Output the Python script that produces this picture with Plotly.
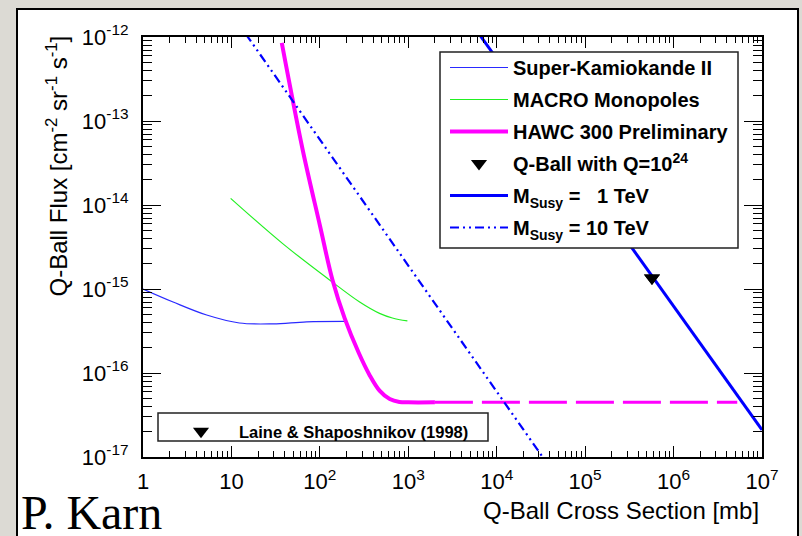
import plotly.graph_objects as go

# ---------------- data ----------------
sk_x = [1, 2.19, 5.25, 12.3, 29.5, 70.8, 195]
sk_y = [1.0e-15, 7.0e-16, 4.9e-16, 3.94e-16, 3.85e-16, 4.07e-16, 4.12e-16]

macro_x = [9.8, 38, 129, 282, 473, 661, 977]
macro_y = [1.2e-14, 3.47e-15, 1.28e-15, 7.0e-16, 5.13e-16, 4.52e-16, 4.17e-16]

hawc_x = [37.1, 64.0, 100, 139, 191, 275, 363, 473, 617, 794, 1000, 2000]
hawc_y = [8.5e-13, 4.52e-14, 5.75e-15, 1.28e-15, 4.47e-16, 1.74e-16, 9.55e-17,
          6.17e-17, 4.9e-17, 4.52e-17, 4.47e-17, 4.47e-17]
hawc_ext_x = [2000, 5.25e6]
hawc_ext_y = [4.47e-17, 4.47e-17]

qball_x = [5.7e5]
qball_y = [1.35e-15]

m1_x = [1e3, 1e7]
m1_y = [1.64e-11, 2.1e-17]

m10_x = [10, 1e5]
m10_y = [1.9e-12, 1.9e-18]

x_ticks = [1, 10, 1e2, 1e3, 1e4, 1e5, 1e6, 1e7]
x_ticktext = ["1", "10", "10<sup>2</sup>", "10<sup>3</sup>", "10<sup>4</sup>",
              "10<sup>5</sup>", "10<sup>6</sup>", "10<sup>7</sup>"]
y_ticks = [1e-17, 1e-16, 1e-15, 1e-14, 1e-13, 1e-12]
y_ticktext = ["10<sup>-17</sup>", "10<sup>-16</sup>", "10<sup>-15</sup>",
              "10<sup>-14</sup>", "10<sup>-13</sup>", "10<sup>-12</sup>"]

x_minor = [k * 10 ** d for d in range(0, 7) for k in range(2, 10)]
y_minor = [k * 10.0 ** d for d in range(-17, -12) for k in range(2, 10)]

# ---------------- geometry helpers (pixel -> paper) ----------------
L, R, T, B = 143, 762, 37, 457
W, H = 802, 536
def px(p):
    return (p - L) / (R - L)
def py(p):
    return (B - p) / (B - T)

SANS = "Liberation Sans, Arial, Helvetica, sans-serif"

fig = go.Figure()

fig.add_trace(go.Scatter(x=sk_x, y=sk_y, mode="lines", name="<b>Super-Kamiokande II</b>",
                         line=dict(color="#2a2aff", width=1.2, shape="spline"),
                         legendgroup="a", legend="legend"))
fig.add_trace(go.Scatter(x=macro_x, y=macro_y, mode="lines", name="<b>MACRO Monopoles</b>",
                         line=dict(color="#22f022", width=1.2, shape="spline"),
                         legendgroup="b", legend="legend"))
fig.add_trace(go.Scatter(x=hawc_x, y=hawc_y, mode="lines", name="<b>HAWC 300 Preliminary</b>",
                         line=dict(color="#ff00ff", width=4, shape="spline", smoothing=1.0),
                         legendgroup="c", legend="legend"))
fig.add_trace(go.Scatter(x=hawc_ext_x, y=hawc_ext_y, mode="lines", showlegend=False,
                         line=dict(color="#ff00ff", width=3, dash="38px,9px"),
                         legendgroup="c", legend="legend"))
fig.add_trace(go.Scatter(x=m1_x, y=m1_y, mode="lines",
                         name="<b>M<sub>Susy</sub> =   1 TeV</b>",
                         line=dict(color="#0000ff", width=3),
                         legendgroup="e", legend="legend"))
fig.add_trace(go.Scatter(x=m10_x, y=m10_y, mode="lines",
                         name="<b>M<sub>Susy</sub> = 10 TeV</b>",
                         line=dict(color="#0000ff", width=2.2, dash="9px,4px,2px,4px,2px,4px"),
                         legendgroup="f", legend="legend"))
fig.add_trace(go.Scatter(x=qball_x, y=qball_y, mode="markers",
                         name="<b>Q-Ball with Q=10<sup>24</sup></b>",
                         marker=dict(symbol="triangle-down", size=14, color="black"),
                         legendgroup="d", legend="legend"))
fig.add_trace(go.Scatter(x=qball_x, y=qball_y, mode="markers",
                         name="<b>Laine & Shaposhnikov (1998)</b>",
                         marker=dict(symbol="triangle-down", size=14, color="black"),
                         legend="legend2"))

# order legend entries as in reference
order = {"a": 1, "b": 2, "c": 3, "d": 4, "e": 5, "f": 6}
for tr in fig.data:
    if tr.legendgroup in order:
        tr.legendrank = order[tr.legendgroup]

axis_common = dict(type="log", showgrid=False, zeroline=False, showline=True,
                   linecolor="black", linewidth=2, mirror="allticks",
                   ticks="inside", tickcolor="black", tickwidth=1,
                   tickmode="array",
                   tickfont=dict(family=SANS, size=22, color="black"))

fig.update_layout(
    width=W, height=H,
    margin=dict(l=L, r=W - R, t=T, b=H - B, pad=0),
    paper_bgcolor="#dcdad4", plot_bgcolor="white",
    showlegend=True,
    xaxis=dict(axis_common, range=[0, 7], tickvals=x_ticks, ticktext=x_ticktext,
               ticklen=11, ticklabelstandoff=4,
               minor=dict(ticks="inside", ticklen=6, tickwidth=1, tickcolor="black",
                          tickmode="array", tickvals=x_minor, showgrid=False)),
    yaxis=dict(axis_common, range=[-17, -12], tickvals=y_ticks, ticktext=y_ticktext,
               ticklen=18, ticklabelstandoff=8,
               minor=dict(ticks="inside", ticklen=9, tickwidth=1, tickcolor="black",
                          tickmode="array", tickvals=y_minor, showgrid=False)),
    legend=dict(x=px(445), y=py(48), xanchor="left", yanchor="top",
                bgcolor="rgba(0,0,0,0)", borderwidth=0,
                font=dict(family=SANS, size=20, color="black"),
                itemwidth=58, tracegroupgap=3, traceorder="grouped"),
    legend2=dict(x=px(163), y=py(414), xanchor="left", yanchor="top",
                 bgcolor="rgba(0,0,0,0)", borderwidth=0,
                 font=dict(family=SANS, size=16.5, color="black"),
                 itemwidth=66),
)

shapes = [
    # white slide panel with dark border
    dict(type="rect", xref="paper", yref="paper", layer="below",
         x0=px(17), x1=px(798), y0=py(560), y1=py(9),
         fillcolor="white", line=dict(color="black", width=2)),
    # legend boxes
    dict(type="rect", xref="paper", yref="paper", layer="above",
         x0=px(440), x1=px(738), y0=py(248), y1=py(52),
         fillcolor="white", line=dict(color="#222222", width=1.5)),
    dict(type="rect", xref="paper", yref="paper", layer="above",
         x0=px(158), x1=px(488), y0=py(441), y1=py(413),
         fillcolor="white", line=dict(color="#222222", width=1.5)),
]
fig.update_layout(shapes=shapes)

fig.add_annotation(text="Q-Ball Flux [cm<sup>-2</sup> sr<sup>-1</sup> s<sup>-1</sup>]",
                   xref="paper", yref="paper", x=px(56), y=py(34),
                   xanchor="center", yanchor="top", textangle=-90, showarrow=False,
                   font=dict(family=SANS, size=24, color="black"))
fig.add_annotation(text="Q-Ball Cross Section [mb]",
                   xref="paper", yref="paper", x=px(761), y=py(510),
                   xanchor="right", yanchor="middle", showarrow=False,
                   font=dict(family=SANS, size=24, color="black"))
fig.add_annotation(text="P. Karn",
                   xref="paper", yref="paper", x=px(19), y=py(512),
                   xanchor="left", yanchor="middle", showarrow=False,
                   font=dict(family="Liberation Serif, Times New Roman, serif", size=48, color="black"))

fig.write_html("out.html")
